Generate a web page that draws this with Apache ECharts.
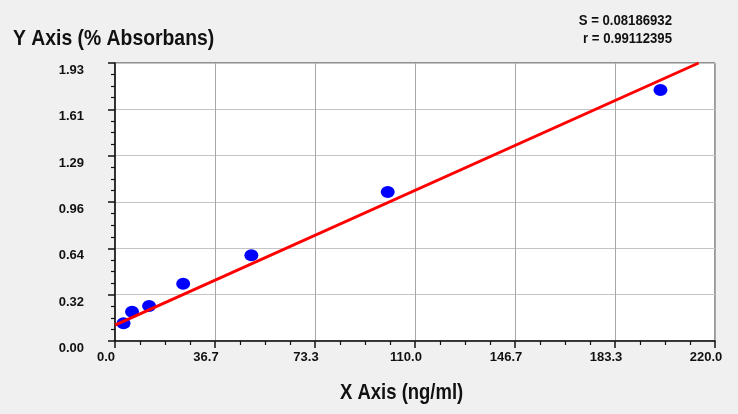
<!DOCTYPE html>
<html>
<head>
<meta charset="utf-8">
<script src="https://cdn.jsdelivr.net/npm/echarts@6/dist/echarts.min.js"></script>
<style>
html,body{margin:0;padding:0;background:#f0f0f0;}
#chart{width:738px;height:414px;}
</style>
</head>
<body>
<div id="chart"></div>
<script>
// Data
var concentrations = [3.125, 6.25, 12.5, 25, 50, 100, 200];
var absorbances = [0.123, 0.203, 0.243, 0.398, 0.595, 1.034, 1.742];
var fitLineX = [0, 214];
var fitLineY = [0.111, 1.93];
var xTickLabels = ['0.0', '36.7', '73.3', '110.0', '146.7', '183.3', '220.0'];
var yTickLabels = ['0.00', '0.32', '0.64', '0.96', '1.29', '1.61', '1.93'];
var statS = 'S = 0.08186932';
var statR = 'r = 0.99112395';
var xTitle = 'X Axis (ng/ml)';
var yTitle = 'Y Axis (% Absorbans)';

var FONT = '"Liberation Sans", Arial, sans-serif';
var xMax = 220, yMax = 1.93;

var points = concentrations.map(function (x, i) { return [x, absorbances[i]]; });
var fit = fitLineX.map(function (x, i) { return [x, fitLineY[i]]; });

var chart = echarts.init(document.getElementById('chart'));
chart.setOption({
  backgroundColor: '#f0f0f0',
  animation: false,
  grid: {
    left: 115, right: 23, top: 63, bottom: 73,
    show: true, backgroundColor: '#ffffff', borderColor: '#333333', borderWidth: 1
  },
  xAxis: {
    type: 'value', min: 0, max: xMax, interval: xMax / 6,
    axisLine: { show: true, onZero: false, lineStyle: { color: '#111111', width: 1.5 } },
    axisTick: { show: true, length: 7, lineStyle: { color: '#111111', width: 1.5 } },
    minorTick: { show: true, splitNumber: 4, length: 4, lineStyle: { color: '#111111', width: 1.2 } },
    splitLine: { show: true, lineStyle: { color: '#a8a8a8', width: 1 } },
    axisLabel: {
      margin: 10, color: '#111111', fontFamily: FONT, fontWeight: 'bold', fontSize: 13,
      padding: [0, 18, 0, 0],
      formatter: function (v, i) { return xTickLabels[i]; }
    }
  },
  yAxis: {
    type: 'value', min: 0, max: yMax, interval: yMax / 6,
    axisLine: { show: true, onZero: false, lineStyle: { color: '#111111', width: 1.5 } },
    axisTick: { show: true, length: 7, lineStyle: { color: '#111111', width: 1.5 } },
    minorTick: { show: true, splitNumber: 4, length: 4, lineStyle: { color: '#111111', width: 1.2 } },
    splitLine: { show: true, lineStyle: { color: '#c4c4c4', width: 1 } },
    axisLabel: {
      margin: 31, color: '#111111', fontFamily: FONT, fontWeight: 'bold', fontSize: 13,
      verticalAlign: 'top', padding: [1, 0, 0, 0],
      formatter: function (v, i) { return yTickLabels[i]; }
    }
  },
  series: [
    {
      type: 'scatter', data: points, symbol: 'circle', symbolSize: [14, 12],
      itemStyle: { color: '#0000ff', opacity: 1 }, z: 2
    },
    {
      type: 'line', data: fit, symbol: 'none', z: 3,
      lineStyle: { color: '#ff0000', width: 3 }
    }
  ],
  graphic: [
    { type: 'text', x: 13, y: 39, scaleX: 0.88, style: { text: yTitle, fontFamily: FONT, fontWeight: 'bold', fontSize: 22, fill: '#111111', verticalAlign: 'middle' } },
    { type: 'text', x: 340, y: 393, scaleX: 0.84, style: { text: xTitle, fontFamily: FONT, fontWeight: 'bold', fontSize: 22, fill: '#111111', verticalAlign: 'middle' } },
    { type: 'text', x: 672, y: 21, scaleX: 0.94, style: { text: statS, fontFamily: FONT, fontWeight: 'bold', fontSize: 14, fill: '#111111', align: 'right', verticalAlign: 'middle' } },
    { type: 'text', x: 672, y: 39, scaleX: 0.94, style: { text: statR, fontFamily: FONT, fontWeight: 'bold', fontSize: 14, fill: '#111111', align: 'right', verticalAlign: 'middle' } }
  ]
});
</script>
</body>
</html>
